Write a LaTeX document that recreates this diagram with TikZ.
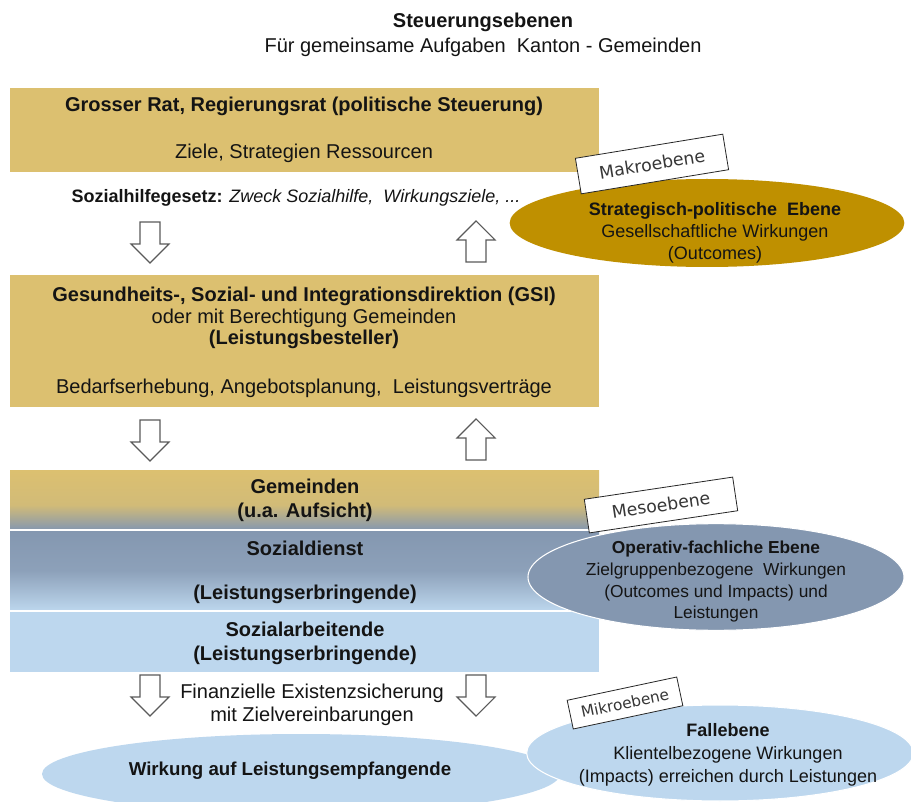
\documentclass[tikz,border=0pt]{standalone}
\usepackage{fontspec}
\setmainfont{Liberation Sans}
\newfontfamily\lblfont{DejaVu Sans}
\usetikzlibrary{shapes.geometric}
\definecolor{goldL}{RGB}{220,192,112}
\definecolor{goldD}{RGB}{191,144,0}
\definecolor{blueG}{RGB}{132,151,176}
\definecolor{blueL}{RGB}{189,215,238}
\definecolor{ink}{RGB}{20,20,20}
\definecolor{arrgray}{RGB}{90,90,90}
\newcommand\fsz[2]{\fontsize{#1}{#2}\selectfont}
\tikzset{
  txt/.style={inner sep=0pt, text=ink, align=center},
  arrstyle/.style={draw=arrgray, fill=white, line width=0.8pt, line join=miter},
  pics/blockdown/.style={code={\path[arrstyle] (-10,0)--(10,0)--(10,22)--(19,22)--(0,41)--(-19,22)--(-10,22)--cycle;}},
  lvl/.style={draw=black!85, fill=white, line width=0.6pt, inner sep=0pt, font=\lblfont\fsz{13}{15}, text=ink!85},
  ell/.style={ellipse, inner sep=0pt},
}
\begin{document}
\begin{tikzpicture}[x=0.75pt,y=-0.75pt]
\clip (0,0) rectangle (911,802);
\fill[white] (0,0) rectangle (911,802);
% title
\node[txt, font=\bfseries\fsz{15}{18}] (title) at (483,22) {Steuerungsebenen};
\node[txt, font=\fsz{15}{18}] (subtitle) at (483,47) {Für gemeinsame Aufgaben\ \ Kanton - Gemeinden};
% box 1
\fill[goldL] (10,88) rectangle (599,172);
\node[txt, font=\bfseries\fsz{15}{18}] (rat) at (304,106) {Grosser Rat, Regierungsrat (politische Steuerung)};
\node[txt, font=\fsz{15}{18}] (ziele) at (304,153) {Ziele, Strategien Ressourcen};
\node[txt, font=\fsz{13.5}{16}] (gesetz) at (296,198) {\textbf{Sozialhilfegesetz:} \textit{Zweck Sozialhilfe,\ \ Wirkungsziele, ...}};
\pic at (150,222) {blockdown};
\pic[rotate=180] at (476,262) {blockdown};
% box 2
\fill[goldL] (10,275) rectangle (599,407);
\node[txt, font=\fsz{15}{16.1}] (gsi) at (304,318) {\textbf{Gesundheits-, Sozial- und Integrationsdirektion (GSI)}\\oder mit Berechtigung Gemeinden\\\textbf{(Leistungsbesteller)}};
\node[txt, font=\fsz{15}{18}] (bedarf) at (304,388) {Bedarfserhebung, Angebotsplanung,\ \ Leistungsverträge};
\pic at (150,420) {blockdown};
\pic[rotate=180] at (476,460) {blockdown};
% box 3
\shade[top color=goldL, bottom color=goldL!88!blueG] (10,470) rectangle (599,505.5);
\shade[top color=goldL!88!blueG, bottom color=blueG] (10,505) rectangle (599,530);
% box 4
\shade[top color=blueG, bottom color=blueG!85!blueL] (10,530) rectangle (599,571);
\shade[top color=blueG!85!blueL, bottom color=blueL] (10,570.5) rectangle (599,611);
% box 5
\fill[blueL] (10,611) rectangle (599,672);
\draw[white, line width=1pt] (10,530) -- (599,530);
\draw[white, line width=1pt] (10,611) -- (599,611);
\node[txt, font=\bfseries\fsz{15}{18}] (gemeinden) at (305,500) {Gemeinden\\(u.a. Aufsicht)};
\node[txt, font=\bfseries\fsz{15}{18}] (sozialdienst) at (305,548) {Sozialdienst};
\node[txt, font=\bfseries\fsz{15}{18}] (erbringende) at (305,594) {(Leistungserbringende)};
\node[txt, font=\bfseries\fsz{15}{18}] (sozialarbeitende) at (305,643) {Sozialarbeitende\\(Leistungserbringende)};
% bottom arrows
\pic at (150,675) {blockdown};
\pic at (476,675) {blockdown};
\node[txt, font=\fsz{15}{17.25}] (finanz) at (312,705) {Finanzielle Existenzsicherung\\mit Zielvereinbarungen};
% ellipses
\node[ell, fill=goldD, minimum width=296pt, minimum height=66pt] (strat) at (707,223) {};
\node[txt, font=\fsz{13.5}{16.5}] (strattxt) at (715,233) {\textbf{Strategisch-politische\ \ Ebene}\\Gesellschaftliche Wirkungen\\(Outcomes)};
\node[ell, fill=blueG, draw=white, line width=0.8pt, minimum width=282pt, minimum height=80pt] (oper) at (716,577) {};
\node[txt, font=\fsz{13}{16.25}] (opertxt) at (716,582) {\textbf{Operativ-fachliche Ebene}\\Zielgruppenbezogene\ \ Wirkungen\\(Outcomes und Impacts) und\\Leistungen};
\node[ell, fill=blueL, minimum width=388.5pt, minimum height=60pt] (wirk) at (301,774) {};
\node[txt, font=\bfseries\fsz{14}{17}] (wirktxt) at (290,771) {Wirkung auf Leistungsempfangende};
\node[ell, fill=blueL, draw=white, line width=0.8pt, minimum width=290pt, minimum height=72pt] (fall) at (720,753) {};
\node[txt, font=\fsz{13.5}{17}] (falltxt) at (728,755) {\textbf{Fallebene}\\Klientelbezogene Wirkungen\\(Impacts) erreichen durch Leistungen};
% level labels
\node[lvl, rotate=9.3, minimum width=112pt, minimum height=27pt] (makro) at (652,164) {Makroebene};
\node[lvl, rotate=8.5, minimum width=112.5pt, minimum height=25.5pt] (meso) at (661,505) {Mesoebene};
\node[lvl, rotate=12, minimum width=84pt, minimum height=22pt, font=\lblfont\fsz{11.5}{13}] (mikro) at (625,703) {Mikroebene};
\end{tikzpicture}
\end{document}
